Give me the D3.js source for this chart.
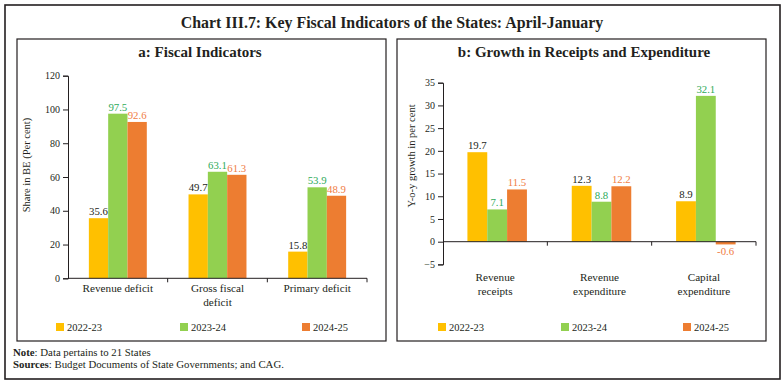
<!DOCTYPE html>
<html>
<head>
<meta charset="utf-8">
<script src="https://cdn.jsdelivr.net/npm/d3@7"></script>
<style>
  body { margin: 0; background: #fff; }
  svg text { font-family: "Liberation Serif", "DejaVu Serif", serif; fill: #231f20; }
</style>
</head>
<body>
<svg id="chart" width="784" height="385"></svg>
<script>
// data
const series = ['2022-23', '2023-24', '2024-25'];
const colors = ['#FFC000', '#92D050', '#ED7D31'];
const labelColors = ['#231f20', '#2eaa5a', '#f07d45'];

const catsA = [['Revenue deficit'], ['Gross fiscal', 'deficit'], ['Primary deficit']];
const valsA = [
  [35.6, 97.5, 92.6],
  [49.7, 63.1, 61.3],
  [15.8, 53.9, 48.9]
];
const ticksA = [0, 20, 40, 60, 80, 100, 120];

const catsB = [['Revenue', 'receipts'], ['Revenue', 'expenditure'], ['Capital', 'expenditure']];
const valsB = [
  [19.7, 7.1, 11.5],
  [12.3, 8.8, 12.2],
  [8.9, 32.1, -0.6]
];
const ticksB = [-5, 0, 5, 10, 15, 20, 25, 30, 35];

const svg = d3.select('#chart');

// frames
svg.append('rect').attr('x', 5).attr('y', 5).attr('width', 775).attr('height', 374)
  .attr('fill', 'none').attr('stroke', '#231f20').attr('stroke-width', 1.6);
svg.append('rect').attr('x', 17).attr('y', 39).attr('width', 369).attr('height', 302)
  .attr('fill', 'none').attr('stroke', '#231f20').attr('stroke-width', 1.2);
svg.append('rect').attr('x', 397).attr('y', 39).attr('width', 369).attr('height', 302)
  .attr('fill', 'none').attr('stroke', '#231f20').attr('stroke-width', 1.2);

svg.append('text').attr('x', 392).attr('y', 28).attr('text-anchor', 'middle')
  .style('font-size', '15.9px').style('font-weight', 'bold')
  .text('Chart III.7: Key Fiscal Indicators of the States: April-January');

function panel(o) {
  const g = svg.append('g');
  g.append('text').attr('x', o.titleX).attr('y', 57).attr('text-anchor', 'middle')
    .style('font-size', '15px').style('font-weight', 'bold').text(o.title);

  const x = d3.scaleBand().domain(d3.range(o.cats.length)).range(o.xr);
  const xs = d3.scaleBand().domain(d3.range(series.length)).range([0, x.bandwidth()])
    .paddingInner(0).paddingOuter(o.pad);
  const y = d3.scaleLinear().domain(o.dom).range(o.yr);

  // bars
  o.vals.forEach((row, i) => {
    row.forEach((v, j) => {
      const bx = x(i) + xs(j) + o.shift;
      g.append('rect')
        .attr('x', bx).attr('width', xs.bandwidth())
        .attr('y', y(Math.max(0, v)))
        .attr('height', Math.abs(y(v) - y(0)))
        .attr('fill', colors[j]);
      g.append('text')
        .attr('x', bx + xs.bandwidth() / 2)
        .attr('y', v >= 0 ? y(v) - 3 : y(v) + 11)
        .attr('text-anchor', 'middle')
        .style('font-size', '10.8px')
        .style('fill', labelColors[j])
        .text(v.toFixed(1));
    });
  });

  // y axis
  const ya = g.append('g').attr('transform', `translate(${o.xr[0]},0)`)
    .call(d3.axisLeft(y).tickValues(o.ticks).tickSize(5).tickPadding(3).tickFormat(d3.format('d')));
  ya.select('.domain').attr('stroke', '#231f20');
  ya.selectAll('.tick line').attr('stroke', '#231f20');
  ya.selectAll('.tick text').style('font-size', '10px').attr('fill', '#231f20')
    .style('font-family', '"Liberation Serif", serif');

  // x axis at zero with ticks at band edges
  const edges = d3.range(1, o.cats.length + 1).map(i => o.xr[0] + i * x.step());
  g.append('line').attr('x1', o.xr[0]).attr('x2', o.xr[1])
    .attr('y1', y(0)).attr('y2', y(0)).attr('stroke', '#231f20');
  g.selectAll('.xt').data(edges).enter().append('line')
    .attr('x1', d => d).attr('x2', d => d)
    .attr('y1', y(0)).attr('y2', y(0) + 4).attr('stroke', '#231f20');

  // category labels
  o.cats.forEach((lines, i) => {
    const t = g.append('text').attr('x', x(i) + x.bandwidth() / 2).attr('y', o.catY)
      .attr('text-anchor', 'middle').style('font-size', '11.2px');
    lines.forEach((l, k) => t.append('tspan').attr('x', x(i) + x.bandwidth() / 2)
      .attr('dy', k ? 13.5 : 0).text(l));
  });

  // y title
  g.append('text').attr('transform', `translate(${o.ytX},${o.ytY}) rotate(-90)`)
    .attr('text-anchor', 'middle').style('font-size', '10.5px').text(o.ytitle);

  // legend
  series.forEach((s, j) => {
    g.append('rect').attr('x', o.legX[j]).attr('y', 323).attr('width', 8).attr('height', 8)
      .attr('fill', colors[j]);
    g.append('text').attr('x', o.legX[j] + 11).attr('y', 331)
      .style('font-size', '10.5px').text(s);
  });
}

panel({
  title: 'a: Fiscal Indicators', titleX: 200,
  cats: catsA, vals: valsA, ticks: ticksA,
  xr: [68, 367], yr: [278.3, 75.7], dom: [0, 120], pad: 1.08, shift: 0,
  catY: 292, ytitle: 'Share in BE (Per cent)', ytX: 30, ytY: 165,
  legX: [56, 180, 302]
});

panel({
  title: 'b: Growth in Receipts and Expenditure', titleX: 584,
  cats: catsB, vals: valsB, ticks: ticksB,
  xr: [443, 756], yr: [264.4, 82.7], dom: [-5, 35], pad: 1.13, shift: 2,
  catY: 281, ytitle: 'Y-o-y growth in per cent', ytX: 415, ytY: 156,
  legX: [438, 561, 683]
});

// notes
const n1 = svg.append('text').attr('x', 13).attr('y', 356).style('font-size', '10.8px');
n1.append('tspan').style('font-weight', 'bold').text('Note');
n1.append('tspan').text(': Data pertains to 21 States');
const n2 = svg.append('text').attr('x', 13).attr('y', 367.5).style('font-size', '10.8px');
n2.append('tspan').style('font-weight', 'bold').text('Sources');
n2.append('tspan').text(': Budget Documents of State Governments; and CAG.');
</script>
</body>
</html>
